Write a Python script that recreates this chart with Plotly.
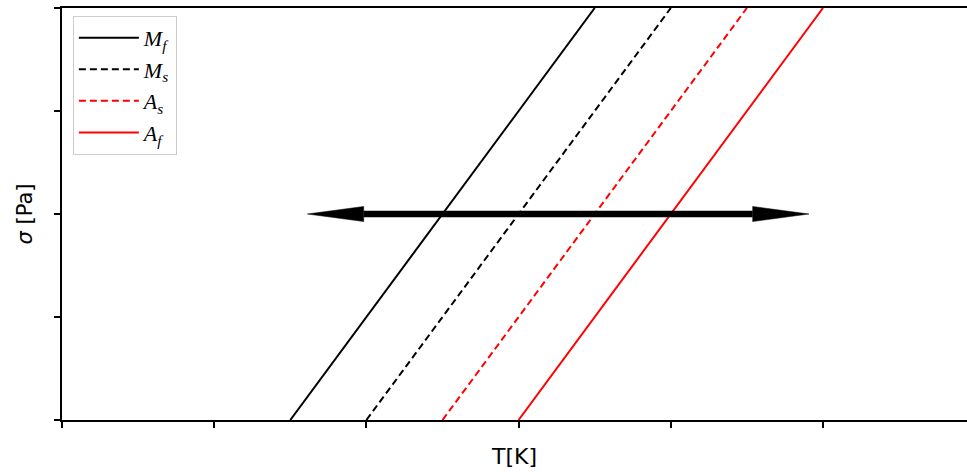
import plotly.graph_objects as go

# Data (temperature in tick units, stress in tick units)
names = ["<i>M</i><sub><i>f</i></sub>", "<i>M</i><sub><i>s</i></sub>",
         "<i>A</i><sub><i>s</i></sub>", "<i>A</i><sub><i>f</i></sub>"]
T_zero = [1.5, 2.0, 2.5, 3.0]     # T where sigma = 0
T_top = [3.5, 4.0, 4.5, 5.0]      # T where sigma = 4
sigma_bottom = 0
sigma_top = 4
colors = ["black", "black", "red", "red"]
dashes = ["solid", "7px,4px", "7px,4px", "solid"]

arrow_y = 2.0
arrow_x0 = 1.612
arrow_x1 = 4.908
head_len = 0.37
head_half = 0.073

x_ticks = [0, 1, 2, 3, 4, 5]
y_ticks = [0, 1, 2, 3, 4]

fig = go.Figure()
for n, a, b, c, d in zip(names, T_zero, T_top, colors, dashes):
    fig.add_trace(go.Scatter(x=[a, b], y=[sigma_bottom, sigma_top], mode="lines",
                             name=n, line=dict(color=c, width=2, dash=d)))

# arrow shaft
fig.add_trace(go.Scatter(x=[arrow_x0 + head_len, arrow_x1 - head_len], y=[arrow_y, arrow_y],
                         mode="lines", line=dict(color="black", width=6.5),
                         showlegend=False, hoverinfo="skip"))
# arrow heads
fig.add_trace(go.Scatter(x=[arrow_x0, arrow_x0 + head_len, arrow_x0 + head_len, arrow_x0],
                         y=[arrow_y, arrow_y + head_half, arrow_y - head_half, arrow_y],
                         mode="lines", fill="toself", fillcolor="black",
                         line=dict(color="black", width=0.5), showlegend=False, hoverinfo="skip"))
fig.add_trace(go.Scatter(x=[arrow_x1, arrow_x1 - head_len, arrow_x1 - head_len, arrow_x1],
                         y=[arrow_y, arrow_y + head_half, arrow_y - head_half, arrow_y],
                         mode="lines", fill="toself", fillcolor="black",
                         line=dict(color="black", width=0.5), showlegend=False, hoverinfo="skip"))

fig.update_layout(
    width=967, height=472, autosize=False,
    margin=dict(l=62, r=0, t=8, b=52),
    plot_bgcolor="white", paper_bgcolor="white",
    font=dict(family="DejaVu Sans", color="black"),
    legend=dict(x=0.012, y=0.981, xanchor="left", yanchor="top",
                bgcolor="rgba(255,255,255,0.8)", bordercolor="#cccccc", borderwidth=1,
                font=dict(family="Liberation Serif", size=22), itemwidth=60,
                tracegroupgap=0),
)
fig.update_xaxes(range=[0, 905 / 152.2], tickvals=x_ticks, showticklabels=False,
                 ticks="outside", ticklen=6, tickwidth=1.5, tickcolor="black",
                 showline=True, linecolor="black", linewidth=1.5, mirror=True,
                 showgrid=False, zeroline=False,
                 title=dict(text="T[K]", font=dict(size=22), standoff=22))
fig.update_yaxes(range=[0, 4], tickvals=y_ticks, showticklabels=False,
                 ticks="outside", ticklen=6, tickwidth=1.5, tickcolor="black",
                 showline=True, linecolor="black", linewidth=1.5,
                 showgrid=False, zeroline=False,
                 title=dict(text="<i>σ</i> [Pa]", font=dict(size=21), standoff=16))

fig.write_html("out.html", config={"displayModeBar": False},
               post_script="document.body.style.margin='0';")
